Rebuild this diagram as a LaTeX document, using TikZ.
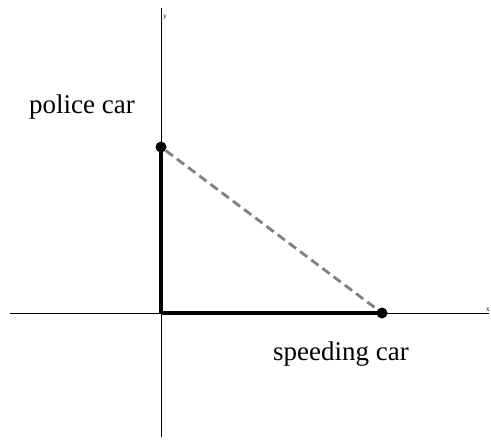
\documentclass[tikz,border=0pt]{standalone}
\usepackage{fontspec}
\setmainfont{Liberation Serif}
\begin{document}
\begin{tikzpicture}[x=0.5pt,y=-0.5pt,
    dot/.style={circle,fill=black,inner sep=0pt,minimum size=5.5pt},
    axislabel/.style={font=\fontsize{3.5}{3.5}\selectfont,inner sep=0pt}]
      \useasboundingbox (0,0) rectangle (491,440);
      \draw
        (161,313) coordinate (O)
        (10,313) coordinate (xmin)
        (489,313) coordinate (xmax)
        (161,437) coordinate (ymin)
        (161,8) coordinate (ymax)
        (161,147) node[dot] (police){}
        (382,313) node[dot] (speeder){}
        (82,107) node[font=\fontsize{13.5}{13.5}\selectfont] (policelabel){police car}
        (341,354) node[font=\fontsize{13.5}{13.5}\selectfont] (speederlabel){speeding car}
        (163,18) node[axislabel,anchor=west] (ylabel){y}
        (490,310) node[axislabel,anchor=east] (xlabel){x};
      \begin{scope}[line width=0.5pt]
        \draw (xmin) to (xmax);
        \draw (ymin) to (ymax);
      \end{scope}
      \begin{scope}[line width=1.6pt]
        \draw (O) to (police.center);
        \draw (O) to (speeder.center);
      \end{scope}
      \draw[gray,line width=1.4pt,dash pattern=on 4.5pt off 2.5pt] (police) to (speeder);
    \end{tikzpicture}
\end{document}
